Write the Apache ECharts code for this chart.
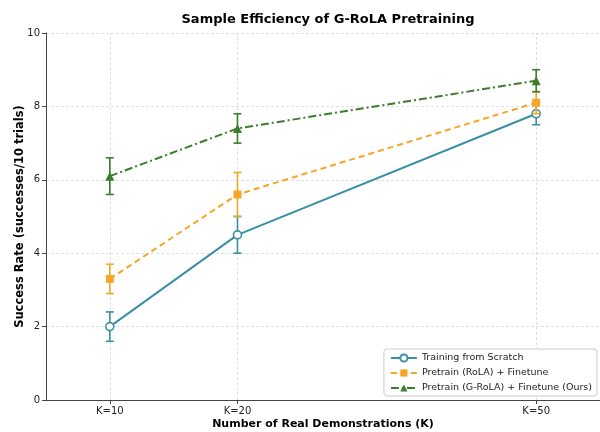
<!DOCTYPE html>
<html>
<head>
<meta charset="utf-8">
<script src="https://cdn.jsdelivr.net/npm/echarts@6/dist/echarts.min.js"></script>
<style>
  html, body { margin: 0; padding: 0; background: #fff; }
  #chart { width: 600px; height: 432px; }
</style>
</head>
<body>
<div id="chart"></div>
<script>
// x positions of the three K settings (uneven spacing as in the original plot)
const xPos = [1, 2, 4.34];
const xLabels = ['K=10', 'K=20', 'K=50'];

const scratchMean = [2.0, 4.5, 7.8];
const scratchErr = [0.4, 0.5, 0.3];
const rolaMean = [3.3, 5.6, 8.1];
const rolaErr = [0.4, 0.6, 0.3];
const grolaMean = [6.1, 7.4, 8.7];
const grolaErr = [0.5, 0.4, 0.3];

const FONT = 'DejaVu Sans';
const C_TEAL = '#3a8fa6';
const C_ORANGE = '#f5a627';
const C_GREEN = '#3b7d2c';

const pts = (m) => m.map((v, i) => [xPos[i], v]);
const errs = (m, e) => m.map((v, i) => [xPos[i], v - e[i], v + e[i]]);

function errBar(color) {
  return (params, api) => {
    const lo = api.coord([api.value(0), api.value(1)]);
    const hi = api.coord([api.value(0), api.value(2)]);
    const w = 4;
    const st = { stroke: color, lineWidth: 1.6 };
    return {
      type: 'group',
      children: [
        { type: 'line', shape: { x1: lo[0], y1: lo[1], x2: hi[0], y2: hi[1] }, style: st },
        { type: 'line', shape: { x1: lo[0] - w, y1: lo[1], x2: lo[0] + w, y2: lo[1] }, style: st },
        { type: 'line', shape: { x1: hi[0] - w, y1: hi[1], x2: hi[0] + w, y2: hi[1] }, style: st },
      ],
    };
  };
}

function errSeries(m, e, color, z) {
  return {
    type: 'custom', data: errs(m, e), renderItem: errBar(color),
    encode: { x: 0, y: [1, 2] }, z: z, silent: true,
  };
}

const chart = echarts.init(document.getElementById('chart'));
chart.setOption({
  animation: false,
  textStyle: { fontFamily: FONT },
  title: {
    text: 'Sample Efficiency of G-RoLA Pretraining',
    left: 323, top: 8, textAlign: 'center',
    textStyle: { fontFamily: FONT, fontSize: 13, fontWeight: 'bold', color: '#000' },
  },
  grid: { left: 46, right: 0, top: 33, bottom: 32, outerBoundsMode: 'none', containLabel: false },
  legend: {
    orient: 'vertical', right: 3, bottom: 36,
    data: ['Training from Scratch', 'Pretrain (RoLA) + Finetune', 'Pretrain (G-RoLA) + Finetune (Ours)'],
    backgroundColor: '#fff',
    borderColor: '#cccccc', borderWidth: 1, borderRadius: 3,
    padding: [4, 5, 3, 6], itemGap: 5, itemWidth: 26, itemHeight: 9,
    textStyle: { fontFamily: FONT, fontSize: 9.5, color: '#222' },
  },
  xAxis: {
    type: 'value', min: 0.5, max: 4.84,
    axisLine: { lineStyle: { color: '#444', width: 1 } },
    axisTick: { customValues: xPos, length: 4, lineStyle: { color: '#444' } },
    axisLabel: {
      customValues: xPos, color: '#222', fontSize: 10, margin: 6,
      formatter: (v) => xLabels[xPos.indexOf(v)] || '',
    },
    splitLine: { show: false },
    name: 'Number of Real Demonstrations (K)', nameLocation: 'middle', nameGap: 19,
    nameMoveOverlap: false,
    nameTextStyle: { fontFamily: FONT, fontSize: 11, fontWeight: 'bold', color: '#000' },
  },
  yAxis: {
    type: 'value', min: 0, max: 10, interval: 2,
    axisLine: { show: true, lineStyle: { color: '#444', width: 1 } },
    axisTick: { show: true, length: 4, lineStyle: { color: '#444' } },
    axisLabel: { color: '#222', fontSize: 10, margin: 6 },
    splitLine: { lineStyle: { color: '#d8d8d8', type: [3, 2], width: 0.8 } },
    name: 'Success Rate (successes/10 trials)', nameLocation: 'middle', nameGap: 20,
    nameMoveOverlap: false,
    nameTextStyle: { fontFamily: FONT, fontSize: 11.5, fontWeight: 'bold', color: '#000' },
  },
  series: [
    {
      name: 'Training from Scratch', type: 'line', data: pts(scratchMean), z: 3,
      symbol: 'circle', symbolSize: 8, showAllSymbol: true,
      lineStyle: { color: C_TEAL, width: 2 },
      itemStyle: { color: '#fff', borderColor: C_TEAL, borderWidth: 1.6 },
      markLine: {
        silent: true, symbol: 'none', label: { show: false },
        lineStyle: { color: '#d8d8d8', type: [3, 2], width: 0.8 },
        data: xPos.map((x) => ({ xAxis: x })),
        z: 1,
      },
    },
    errSeries(scratchMean, scratchErr, C_TEAL, 3),
    {
      name: 'Pretrain (RoLA) + Finetune', type: 'line', data: pts(rolaMean), z: 4,
      symbol: 'rect', symbolSize: 8,
      lineStyle: { color: C_ORANGE, width: 2, type: [6, 4] },
      itemStyle: { color: C_ORANGE },
    },
    errSeries(rolaMean, rolaErr, C_ORANGE, 4),
    {
      name: 'Pretrain (G-RoLA) + Finetune (Ours)', type: 'line', data: pts(grolaMean), z: 5,
      symbol: 'triangle', symbolSize: 9,
      lineStyle: { color: C_GREEN, width: 2, type: [8, 3, 2, 3] },
      itemStyle: { color: C_GREEN },
    },
    errSeries(grolaMean, grolaErr, C_GREEN, 5),
  ],
});
</script>
</body>
</html>
